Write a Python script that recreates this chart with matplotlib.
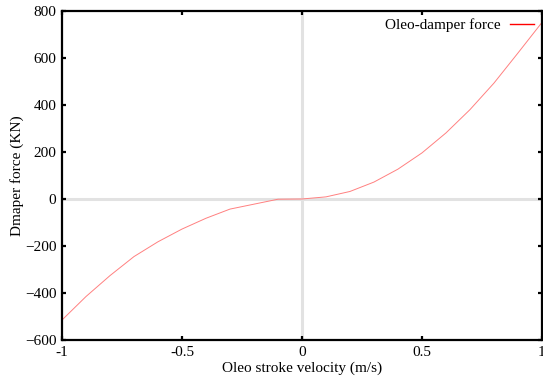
# Oleo-damper force vs stroke velocity
import matplotlib.pyplot as plt
import numpy as np

plt.rcParams['font.family'] = ['Liberation Serif', 'DejaVu Serif']

# values
velocity = [-1.0, -0.9, -0.8, -0.7, -0.6, -0.5, -0.4, -0.3, -0.2, -0.1,
            0.0, 0.1, 0.2, 0.3, 0.4, 0.5, 0.6, 0.7, 0.8, 0.9, 1.0]
force = [-515, -415, -326, -245, -182, -128, -82, -43, -22, -1,
         0, 9, 32, 72, 127, 196, 281, 380, 493, 621, 751]

fig = plt.figure(figsize=(5.43, 3.83), dpi=100)
ax = fig.add_axes([0.1142, 0.1123, 0.8838, 0.859])

ax.axhline(0, color='#e2e2e2', lw=2.2, zorder=0)
ax.axvline(0, color='#e2e2e2', lw=2.2, zorder=0)
ax.plot(velocity, force, color='#ff8080', lw=0.7)
# legend handle in full red
ax.plot([], [], color='red', lw=1.0, label='Oleo-damper force')

ax.set_xlim(-1, 1)
ax.set_ylim(-600, 800)
ax.set_xticks([-1, -0.5, 0, 0.5, 1])
ax.set_xticklabels(['-1', '-0.5', '0', '0.5', '1'])
ax.set_yticks(np.arange(-600, 801, 200))

for s in ax.spines.values():
    s.set_linewidth(1.6)
ax.tick_params(direction='in', length=3, width=1.6, top=True, right=True,
               labelsize=11, pad=4)

ax.set_xlabel('Oleo stroke velocity (m/s)', fontsize=11, labelpad=2)
ax.set_ylabel('Dmaper force (KN)', fontsize=11, labelpad=1)

ax.legend(loc='upper right', frameon=False, markerfirst=False, fontsize=11,
          handlelength=1.6, borderaxespad=0.1, handletextpad=0.6)

fig.savefig('out.png', dpi=100)
